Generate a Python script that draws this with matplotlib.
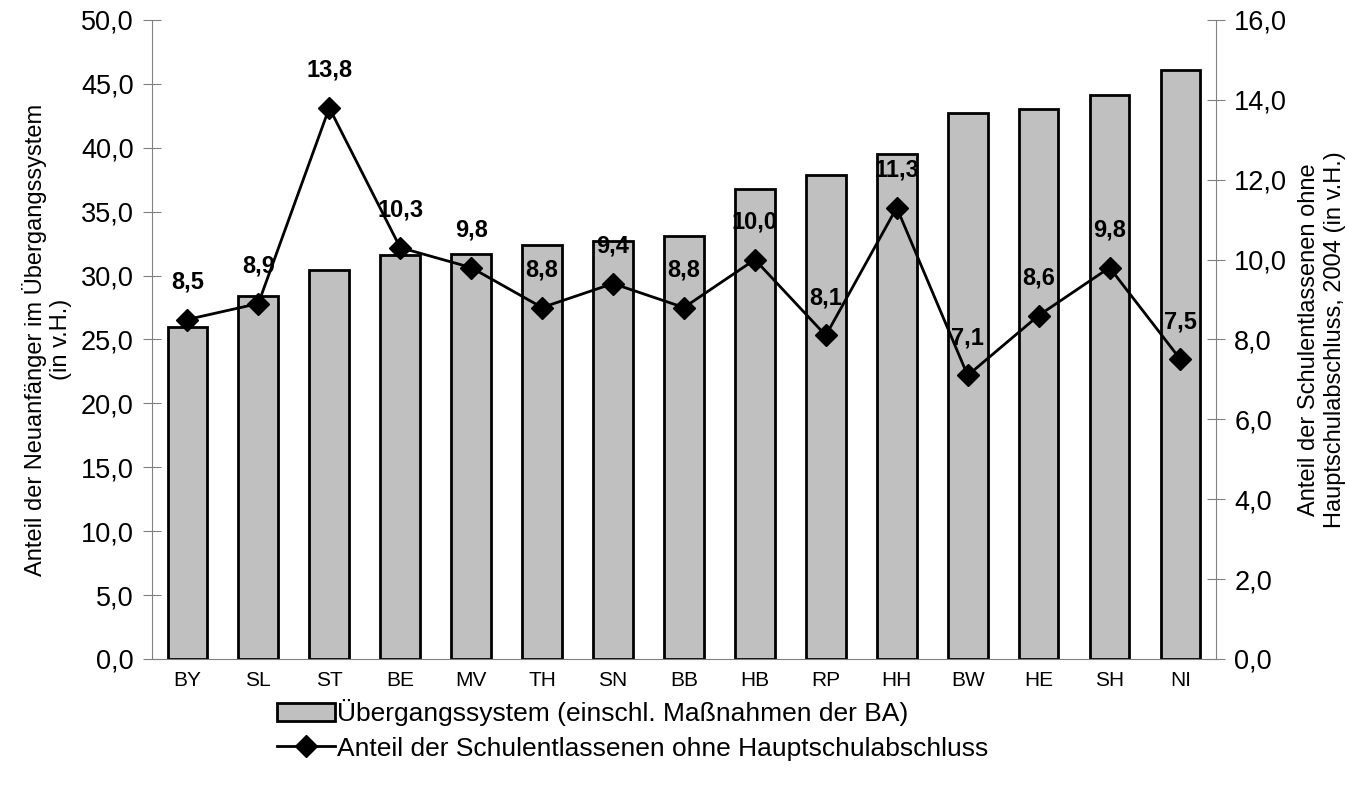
import matplotlib.pyplot as plt
from matplotlib.ticker import FuncFormatter

plt.rcParams['font.family'] = ['Liberation Sans', 'DejaVu Sans']

laender = ["BY", "SL", "ST", "BE", "MV", "TH", "SN", "BB", "HB", "RP", "HH", "BW", "HE", "SH", "NI"]
uebergang = [26.0, 28.4, 30.4, 31.6, 31.7, 32.4, 32.7, 33.1, 36.8, 37.9, 39.5, 42.7, 43.0, 44.1, 46.1]
ohne_hsa = [8.5, 8.9, 13.8, 10.3, 9.8, 8.8, 9.4, 8.8, 10.0, 8.1, 11.3, 7.1, 8.6, 9.8, 7.5]

komma = FuncFormatter(lambda v, p: "{:.1f}".format(v).replace(".", ","))

fig = plt.figure(figsize=(13.47, 7.86), dpi=100)
ax = fig.add_axes([0.1128, 0.1616, 0.7899, 0.813])
ax2 = ax.twinx()

x = list(range(len(laender)))
bars = ax.bar(x, uebergang, width=0.56, color="#c0c0c0", edgecolor="black", linewidth=2,
              label="Übergangssystem (einschl. Maßnahmen der BA)")
line, = ax2.plot(x, ohne_hsa, color="black", linewidth=2, marker="D", markersize=11,
                 label="Anteil der Schulentlassenen ohne Hauptschulabschluss")
for xi, v in zip(x, ohne_hsa):
    ax2.annotate("{:.1f}".format(v).replace(".", ","), (xi, v), xytext=(0, 19),
                 textcoords="offset points", ha="center", va="bottom",
                 fontsize=17, fontweight="bold")

ax.set_xlim(-0.5, len(laender) - 0.5)
ax.set_ylim(0, 50)
ax2.set_ylim(0, 16)
ax.set_yticks([i * 5 for i in range(11)])
ax2.set_yticks([i * 2 for i in range(9)])
ax.yaxis.set_major_formatter(komma)
ax2.yaxis.set_major_formatter(komma)
ax.set_xticks(x)
ax.set_xticklabels(laender)

for a in (ax, ax2):
    a.spines["top"].set_visible(False)
ax.spines["right"].set_visible(False)
ax2.spines["left"].set_visible(False)
ax2.spines["bottom"].set_visible(False)
ax.spines["left"].set_color("#808080")
ax2.spines["right"].set_color("#808080")
ax.spines["bottom"].set_color("#808080")

ax.tick_params(axis="y", direction="inout", length=12.5, color="#808080", labelsize=19.5, pad=7)
ax2.tick_params(axis="y", direction="inout", length=12.5, color="#808080", labelsize=19.5, pad=7)
ax.tick_params(axis="x", length=0, labelsize=15, pad=9)

ax.set_ylabel("Anteil der Neuanfänger im Übergangssystem\n(in v.H.)", fontsize=17, labelpad=6)
ax2.set_ylabel("Anteil der Schulentlassenen ohne\nHauptschulabschluss, 2004 (in v.H.)", fontsize=17,
               labelpad=8)

fig.legend(handles=[bars, line], loc="upper left", bbox_to_anchor=(0.1975, 0.124), frameon=False,
           fontsize=19, handlelength=2.2, handletextpad=0.1, labelspacing=0.4, borderaxespad=0)

fig.savefig("out.png", dpi=100)
